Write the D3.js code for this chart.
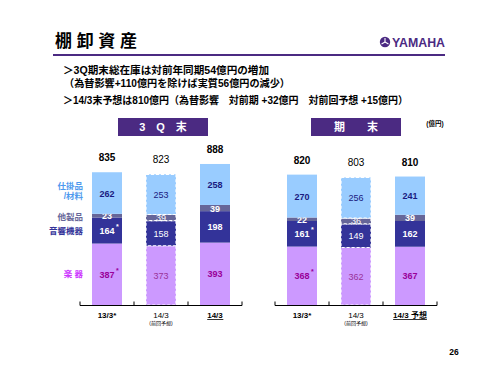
<!DOCTYPE html>
<html>
<head>
<meta charset="utf-8">
<script src="https://cdn.jsdelivr.net/npm/d3@7"></script>
<style>
  body { margin: 0; background: #fff; }
  svg { display: block; font-family: "Liberation Sans", "Noto Sans CJK JP", sans-serif; }
</style>
</head>
<body>
<div id="svganchor"></div>
<script>
// categories
var cats3Q = ["13/3*", "14/3|(前回予想)", "14/3"];
var catsFY = ["13/3*", "14/3|(前回予想)", "14/3 予想"];
var segNames = ["楽 器", "音響機器", "他製品", "仕掛品|/材料"];

// 3Q末 (億円)
var instruments3Q = [387, 373, 393];
var audio3Q = [164, 158, 198];
var other3Q = [23, 39, 39];
var wip3Q = [262, 253, 258];
var totals3Q = [835, 823, 888];

// 期末 (億円)
var instrumentsFY = [368, 362, 367];
var audioFY = [161, 149, 162];
var otherFY = [22, 36, 39];
var wipFY = [270, 256, 241];
var totalsFY = [820, 803, 810];

// values marked with * (first column, instruments and audio)
var starred = ["instruments", "audio"];

var keys = ["instruments", "audio", "other", "wip"];
var fills = { instruments: "#cc99ff", audio: "#333399", other: "#666699", wip: "#99ccff" };
var numColor = { instruments: "#990099", audio: "#ffffff", other: "#ffffff", wip: "#1a1a80" };
var nameColor = ["#cc33ff", "#333399", "#666699", "#4d99ee"];
var purple = "#4b2a82";

var W = 500, H = 375;
var svg = d3.select("#svganchor").append("svg")
  .attr("width", W).attr("height", H);

/*
------------------------------
header
------------------------------
*/
svg.append("text").attr("x", 55).attr("y", 47)
  .attr("font-size", 17).attr("font-weight", "bold").attr("fill", "#000")
  .attr("textLength", 82).attr("lengthAdjust", "spacing")
  .text("棚 卸 資 産");

svg.append("line").attr("x1", 53).attr("x2", 445).attr("y1", 55).attr("y2", 55)
  .attr("stroke", purple).attr("stroke-width", 2);

// logo
var logo = svg.append("g").attr("transform", "translate(385,42)");
logo.append("circle").attr("r", 5.2).attr("fill", purple);
[0, 120, 240].forEach(function (a) {
  logo.append("line").attr("x1", 0).attr("y1", 0).attr("x2", 0).attr("y2", -4)
    .attr("stroke", "#fff").attr("stroke-width", 1.1)
    .attr("transform", "rotate(" + a + ")");
});
svg.append("text").attr("x", 392).attr("y", 47)
  .attr("font-size", 12.5).attr("font-weight", "bold").attr("fill", purple)
  .attr("textLength", 53).attr("lengthAdjust", "spacingAndGlyphs")
  .text("YAMAHA");

var bullets = [
  { t: "＞3Q期末総在庫は対前年同期54億円の増加", x: 63, y: 74, w: 206 },
  { t: "（為替影響+110億円を除けば実質56億円の減少）", x: 64, y: 87, w: 226 },
  { t: "＞14/3末予想は810億円（為替影響　対前期 +32億円　対前回予想 +15億円）", x: 63, y: 104, w: 345 }
];
svg.selectAll(".bullet").data(bullets).enter().append("text")
  .attr("x", function (d) { return d.x; })
  .attr("y", function (d) { return d.y; })
  .attr("textLength", function (d) { return d.w; })
  .attr("lengthAdjust", "spacingAndGlyphs")
  .attr("font-size", 10.5).attr("font-weight", "bold").attr("fill", "#000")
  .text(function (d) { return d.t; });

// period header boxes
var boxes = [{ t: "3　Q　末", x: 118 }, { t: "期　　末", x: 311 }];
boxes.forEach(function (b) {
  svg.append("rect").attr("x", b.x).attr("y", 118).attr("width", 90).attr("height", 18)
    .attr("fill", purple);
  svg.append("text").attr("x", b.x + 45).attr("y", 127).attr("text-anchor", "middle")
    .attr("dominant-baseline", "central")
    .attr("font-size", 11).attr("font-weight", "bold").attr("fill", "#fff")
    .text(b.t);
});
svg.append("text").attr("x", 435).attr("y", 126).attr("text-anchor", "middle")
  .attr("font-size", 6.5).attr("font-weight", "bold").text("(億円)");

svg.append("text").attr("x", 454).attr("y", 355).attr("text-anchor", "middle")
  .attr("font-size", 8.5).attr("font-weight", "bold").text("26");

/*
------------------------------
charts
------------------------------
*/
var baseY = 305;
var y = d3.scaleLinear().domain([0, 1000]).range([baseY, baseY - 158.8]);

function drawChart(cats, cols, totals, x0, x1, withNames) {
  var rows = cats.map(function (c, i) {
    return { cat: c, instruments: cols.instruments[i], audio: cols.audio[i],
             other: cols.other[i], wip: cols.wip[i], total: totals[i], idx: i };
  });
  var x = d3.scaleBand().domain(cats).range([x0, x1])
    .paddingInner(0.4444).paddingOuter(0.2222);
  var gap = x.step() - x.bandwidth();
  var stack = d3.stack().keys(keys)(rows);
  var isForecast = function (c) { return c.indexOf("前回予想") >= 0; };

  var g = svg.append("g");

  var layers = g.selectAll(".layer").data(stack).enter().append("g");
  layers.selectAll("rect").data(function (d) {
    return d.map(function (p) { return { key: d.key, p: p }; });
  }).enter().append("rect")
    .attr("x", function (d) { return x(d.p.data.cat); })
    .attr("width", x.bandwidth())
    .attr("y", function (d) { return y(d.p[1]); })
    .attr("height", function (d) { return y(d.p[0]) - y(d.p[1]); })
    .attr("fill", function (d) { return fills[d.key]; })
    .attr("stroke", function (d) { return isForecast(d.p.data.cat) ? "#fff" : "none"; })
    .attr("stroke-width", 1.2)
    .attr("stroke-dasharray", "3,2");

  // numbers inside segments
  layers.selectAll("text").data(function (d) {
    return d.map(function (p) { return { key: d.key, p: p }; });
  }).enter().append("text")
    .attr("x", function (d) { return x(d.p.data.cat) + x.bandwidth() / 2; })
    .attr("y", function (d) { return (y(d.p[0]) + y(d.p[1])) / 2 + 0.5; })
    .attr("text-anchor", "middle").attr("dominant-baseline", "central")
    .attr("font-size", 9)
    .attr("font-weight", function (d) { return isForecast(d.p.data.cat) ? "normal" : "bold"; })
    .attr("fill", function (d) {
      if (isForecast(d.p.data.cat) && d.key === "instruments") return "#993399";
      return numColor[d.key];
    })
    .text(function (d) { return d.p.data[d.key]; });

  // asterisks on first column
  layers.filter(function (d) { return starred.indexOf(d.key) >= 0; })
    .append("text")
    .attr("x", function (d) { return x(d[0].data.cat) + x.bandwidth() / 2 + 9; })
    .attr("y", function (d) { return (y(d[0][0]) + y(d[0][1])) / 2 - 1.5; })
    .attr("font-size", 7).attr("font-weight", "bold")
    .attr("fill", function (d) { return numColor[d.key]; })
    .text("*");

  // totals
  g.selectAll(".total").data(rows).enter().append("text")
    .attr("x", function (d) { return x(d.cat) + x.bandwidth() / 2; })
    .attr("y", function (d) { return y(d.instruments + d.audio + d.other + d.wip) - 11; })
    .attr("text-anchor", "middle")
    .attr("font-size", 10)
    .attr("font-weight", function (d) { return isForecast(d.cat) ? "normal" : "bold"; })
    .text(function (d) { return d.total; });

  // axis line with upward ticks at band edges
  g.append("line").attr("x1", x0).attr("x2", x1).attr("y1", baseY + 0.5).attr("y2", baseY + 0.5)
    .attr("stroke", "#000").attr("stroke-width", 1);
  var edges = cats.map(function (c) { return x(c) - gap / 2; }).concat([x1]);
  g.selectAll(".tick").data(edges).enter().append("line")
    .attr("x1", function (d) { return d; }).attr("x2", function (d) { return d; })
    .attr("y1", baseY - 3.5).attr("y2", baseY + 0.5)
    .attr("stroke", "#000").attr("stroke-width", 1);

  // category labels
  rows.forEach(function (d) {
    var cx = x(d.cat) + x.bandwidth() / 2;
    var parts = d.cat.split("|");
    var fc = isForecast(d.cat);
    var t = g.append("text").attr("x", cx).attr("y", 318).attr("text-anchor", "middle")
      .attr("font-size", 8).attr("font-weight", fc ? "normal" : "bold")
      .text(parts[0]);
    if (parts[1]) {
      g.append("text").attr("x", cx).attr("y", 325).attr("text-anchor", "middle")
        .attr("font-size", 5).text(parts[1]);
    }
    if (d.idx === cats.length - 1) {
      var bb = t.node().getBBox();
      g.append("line").attr("x1", bb.x).attr("x2", bb.x + bb.width)
        .attr("y1", 319.5).attr("y2", 319.5).attr("stroke", "#000").attr("stroke-width", 0.8);
    }
  });

  // segment names at left
  if (withNames) {
    var first = stack.map(function (s) { return s[0]; });
    var nameY = [0, 0, 1, -2];
    segNames.forEach(function (n, i) {
      var p = first[i];
      var cy = (y(p[0]) + y(p[1])) / 2 + nameY[i];
      var lines = n.split("|");
      lines.forEach(function (ln, j) {
        g.append("text").attr("x", 83).attr("y", cy + (j - (lines.length - 1) / 2) * 10)
          .attr("text-anchor", "end").attr("dominant-baseline", "central")
          .attr("font-size", 8.5).attr("font-weight", "bold").attr("fill", nameColor[i])
          .text(ln);
      });
    });
  }
}

drawChart(cats3Q, { instruments: instruments3Q, audio: audio3Q, other: other3Q, wip: wip3Q },
  totals3Q, 80, 242, true);
drawChart(catsFY, { instruments: instrumentsFY, audio: audioFY, other: otherFY, wip: wipFY },
  totalsFY, 275, 437, false);
</script>
</body>
</html>
